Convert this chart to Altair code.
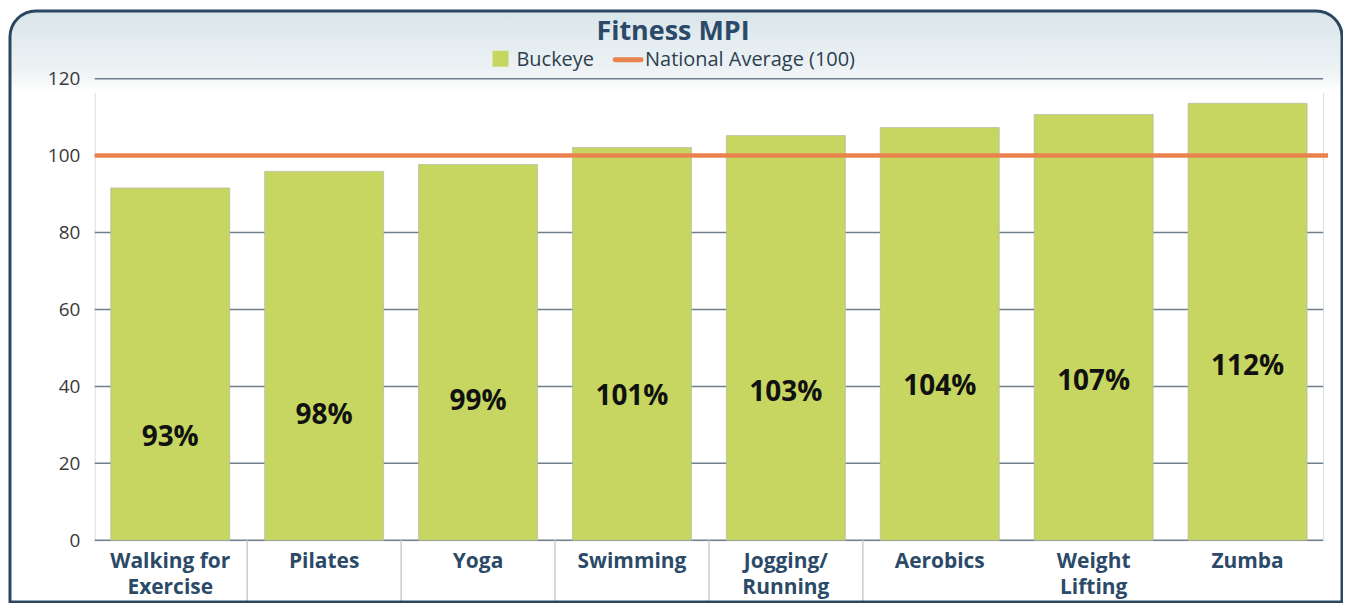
import altair as alt
import pandas as pd

# ---- data ----
categories = ["Walking for\nExercise", "Pilates", "Yoga", "Swimming",
              "Jogging/\nRunning", "Aerobics", "Weight\nLifting", "Zumba"]
bar_values = [91.6, 95.9, 97.7, 102.1, 105.2, 107.3, 110.7, 113.6]
pct_labels = ["93%", "98%", "99%", "101%", "103%", "104%", "107%", "112%"]
label_y = [26.7, 32.4, 36.0, 37.3, 38.4, 39.9, 41.2, 45.1]
y_ticks = [0, 20, 40, 60, 80, 100, 120]
national_average = [100]
separator_after = ["Pilates", "Yoga", "Swimming", "Jogging/\nRunning", "Aerobics"]

title_text = "Fitness MPI"
legend_series = "Buckeye"
legend_ref = "National Average (100)"

W, H = 1232, 463
FONT = "Open Sans"
GREEN = "#c6d660"
ORANGE = "#e8834e"
NAVY = "#2b4a68"

df = pd.DataFrame({"cat": categories, "value": bar_values,
                   "label": pct_labels, "ly": label_y})
ticks_df = pd.DataFrame({"t": y_ticks})
ref_df = pd.DataFrame({"ref": national_average})
sep_df = pd.DataFrame({"cat": separator_after})
one = alt.Data(values=[{"k": 1}])

xscale = alt.Scale(domain=categories, paddingInner=0.227, paddingOuter=0.104)
yscale = alt.Scale(domain=[0, 120], nice=False)

# header gradient band
header = alt.Chart(one).mark_rect(
    fill=alt.Gradient(gradient="linear",
                      stops=[alt.GradientStop(color="#d9e5ea", offset=0),
                             alt.GradientStop(color="#eef3f5", offset=0.75),
                             alt.GradientStop(color="#ffffff", offset=1)],
                      x1=0, x2=0, y1=0, y2=1),
    cornerRadiusTopLeft=26, cornerRadiusTopRight=26,
).encode(x=alt.value(-85), x2=alt.value(1251), y=alt.value(-68), y2=alt.value(14))

grid = alt.Chart(ticks_df).mark_rule(color="#6f7f8d", strokeWidth=1.5).encode(
    y=alt.Y("t:Q", scale=yscale,
            axis=alt.Axis(values=y_ticks, title=None, domain=False, ticks=False,
                          grid=False, labelFont=FONT, labelFontSize=19,
                          labelColor="#3a3a3a", labelPadding=15, zindex=1)),
)

bars = alt.Chart(df).mark_bar(color=GREEN, stroke="#b3b9a6", strokeWidth=1,
                              strokeOpacity=0.7).encode(
    x=alt.X("cat:N", sort=None, scale=xscale,
            axis=alt.Axis(title=None, domain=False, ticks=False, labelAngle=0,
                          labelFont=FONT, labelFontSize=21, labelFontWeight="bold",
                          labelColor=NAVY, labelPadding=10, labelLineHeight=26,
                          labelBaseline="top", zindex=1,
                          labelExpr="split(datum.label, '\\n')")),
    y=alt.Y("value:Q", scale=yscale),
)

seps = alt.Chart(sep_df).mark_rule(color="#c9cdd1", strokeWidth=1.5, xOffset=-17.5).encode(
    x=alt.X("cat:N", sort=None, scale=xscale, bandPosition=0),
    y=alt.value(H), y2=alt.value(525),
)

ref = alt.Chart(ref_df).mark_rule(color=ORANGE, strokeWidth=4.5).encode(
    y=alt.Y("ref:Q", scale=yscale),
    x=alt.value(0), x2=alt.value(1237),
)

labels = alt.Chart(df).mark_text(font=FONT, fontSize=28, fontWeight="bold",
                                 color="#111111", baseline="middle").encode(
    x=alt.X("cat:N", sort=None, scale=xscale),
    y=alt.Y("ly:Q", scale=yscale),
    text="label:N",
)

title = alt.Chart(one).mark_text(font=FONT, fontSize=27, fontWeight="bold",
                                 color=NAVY, baseline="middle", align="center").encode(
    x=alt.value(580), y=alt.value(-47), text=alt.value(title_text))

leg_sq = alt.Chart(one).mark_square(size=256, color=GREEN, opacity=1).encode(
    x=alt.value(407), y=alt.value(-20))
leg_t1 = alt.Chart(one).mark_text(font=FONT, fontSize=20, color="#2c3e50",
                                  align="left", baseline="middle").encode(
    x=alt.value(423), y=alt.value(-19), text=alt.value(legend_series))
leg_ln = alt.Chart(one).mark_rule(color=ORANGE, strokeWidth=5, strokeCap="round").encode(
    x=alt.value(522), x2=alt.value(548), y=alt.value(-19))
leg_t2 = alt.Chart(one).mark_text(font=FONT, fontSize=20, color="#2c3e50",
                                  align="left", baseline="middle").encode(
    x=alt.value(552), y=alt.value(-19), text=alt.value(legend_ref))

frame = alt.Chart(one).mark_rect(fillOpacity=0, stroke="#2c4660", strokeWidth=3,
                                 cornerRadiusTopLeft=26, cornerRadiusTopRight=26).encode(
    x=alt.value(-85), x2=alt.value(1251), y=alt.value(-68), y2=alt.value(525))

chart = alt.layer(header, grid, bars, seps, ref, labels, title,
                  leg_sq, leg_t1, leg_ln, leg_t2, frame).properties(
    width=W, height=H,
    padding={"left": 87, "top": 70, "right": 20, "bottom": 62},
    autosize=alt.AutoSizeParams(type="none"),
).configure_view(stroke=None).configure(background="white")

chart.save("out.html", embed_options={"renderer": "svg", "actions": False})
